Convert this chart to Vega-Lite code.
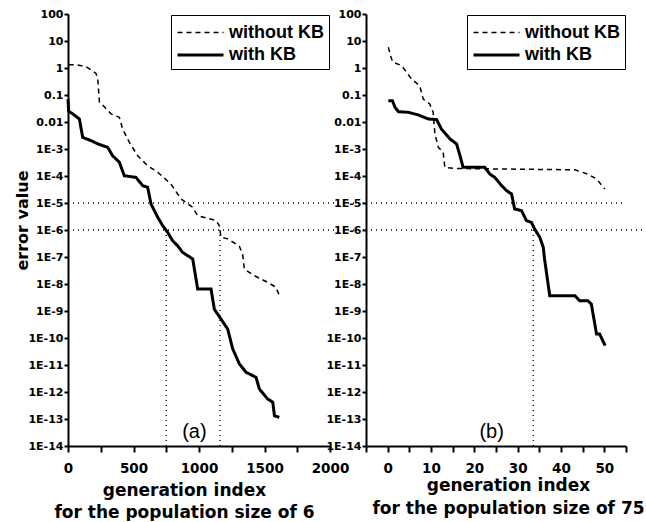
{
  "$schema": "https://vega.github.io/schema/vega-lite/v6.json",
  "background": "white",
  "padding": {"left": 14, "top": 8, "right": 0, "bottom": 0},
  "spacing": 36,
  "bounds": "flush",
  "datasets": {
    "la": [
      {"gen": 5, "err": 1.32, "series": "without KB"},
      {"gen": 60, "err": 1.32, "series": "without KB"},
      {"gen": 137, "err": 1.12, "series": "without KB"},
      {"gen": 214, "err": 0.63, "series": "without KB"},
      {"gen": 227, "err": 0.4, "series": "without KB"},
      {"gen": 240, "err": 0.054, "series": "without KB"},
      {"gen": 270, "err": 0.04, "series": "without KB"},
      {"gen": 328, "err": 0.02, "series": "without KB"},
      {"gen": 392, "err": 0.0148, "series": "without KB"},
      {"gen": 417, "err": 0.0055, "series": "without KB"},
      {"gen": 468, "err": 0.00178, "series": "without KB"},
      {"gen": 532, "err": 5.6e-4, "series": "without KB"},
      {"gen": 608, "err": 2.4e-4, "series": "without KB"},
      {"gen": 685, "err": 1.38e-4, "series": "without KB"},
      {"gen": 786, "err": 5e-5, "series": "without KB"},
      {"gen": 863, "err": 1.41e-5, "series": "without KB"},
      {"gen": 952, "err": 6.9e-6, "series": "without KB"},
      {"gen": 990, "err": 3.4e-6, "series": "without KB"},
      {"gen": 1130, "err": 2.24e-6, "series": "without KB"},
      {"gen": 1155, "err": 1.45e-6, "series": "without KB"},
      {"gen": 1168, "err": 5.4e-7, "series": "without KB"},
      {"gen": 1219, "err": 4.7e-7, "series": "without KB"},
      {"gen": 1308, "err": 2.5e-7, "series": "without KB"},
      {"gen": 1333, "err": 1.26e-7, "series": "without KB"},
      {"gen": 1346, "err": 3.6e-8, "series": "without KB"},
      {"gen": 1422, "err": 2.04e-8, "series": "without KB"},
      {"gen": 1524, "err": 1.15e-8, "series": "without KB"},
      {"gen": 1588, "err": 7.6e-9, "series": "without KB"},
      {"gen": 1613, "err": 3.7e-9, "series": "without KB"},
      {"gen": 0, "err": 0.0708, "series": "with KB"},
      {"gen": 5, "err": 0.0251, "series": "with KB"},
      {"gen": 36, "err": 0.02, "series": "with KB"},
      {"gen": 87, "err": 0.0129, "series": "with KB"},
      {"gen": 112, "err": 0.00269, "series": "with KB"},
      {"gen": 176, "err": 0.00204, "series": "with KB"},
      {"gen": 227, "err": 0.00155, "series": "with KB"},
      {"gen": 303, "err": 0.00115, "series": "with KB"},
      {"gen": 341, "err": 5.6e-4, "series": "with KB"},
      {"gen": 392, "err": 3.24e-4, "series": "with KB"},
      {"gen": 430, "err": 1.02e-4, "series": "with KB"},
      {"gen": 519, "err": 8.9e-5, "series": "with KB"},
      {"gen": 570, "err": 4.4e-5, "series": "with KB"},
      {"gen": 608, "err": 3.8e-5, "series": "with KB"},
      {"gen": 634, "err": 9.1e-6, "series": "with KB"},
      {"gen": 685, "err": 2.95e-6, "series": "with KB"},
      {"gen": 723, "err": 1.45e-6, "series": "with KB"},
      {"gen": 761, "err": 8.1e-7, "series": "with KB"},
      {"gen": 799, "err": 4e-7, "series": "with KB"},
      {"gen": 837, "err": 2.6e-7, "series": "with KB"},
      {"gen": 875, "err": 1.48e-7, "series": "with KB"},
      {"gen": 952, "err": 8.5e-8, "series": "with KB"},
      {"gen": 990, "err": 6.5e-9, "series": "with KB"},
      {"gen": 1092, "err": 6.5e-9, "series": "with KB"},
      {"gen": 1117, "err": 1.17e-9, "series": "with KB"},
      {"gen": 1168, "err": 5e-10, "series": "with KB"},
      {"gen": 1219, "err": 2.14e-10, "series": "with KB"},
      {"gen": 1257, "err": 4e-11, "series": "with KB"},
      {"gen": 1308, "err": 1.1e-11, "series": "with KB"},
      {"gen": 1359, "err": 5.4e-12, "series": "with KB"},
      {"gen": 1435, "err": 3.5e-12, "series": "with KB"},
      {"gen": 1461, "err": 1.29e-12, "series": "with KB"},
      {"gen": 1524, "err": 5.5e-13, "series": "with KB"},
      {"gen": 1563, "err": 4.2e-13, "series": "with KB"},
      {"gen": 1576, "err": 1.32e-13, "series": "with KB"},
      {"gen": 1613, "err": 1.15e-13, "series": "with KB"}
    ],
    "rb": [
      {"gen": 0.15, "err": 5.9, "series": "without KB"},
      {"gen": 0.9, "err": 2.14, "series": "without KB"},
      {"gen": 1.3, "err": 1.62, "series": "without KB"},
      {"gen": 3.2, "err": 1.23, "series": "without KB"},
      {"gen": 5.5, "err": 0.39, "series": "without KB"},
      {"gen": 7.4, "err": 0.219, "series": "without KB"},
      {"gen": 8.2, "err": 0.0708, "series": "without KB"},
      {"gen": 9.7, "err": 0.0468, "series": "without KB"},
      {"gen": 10.5, "err": 0.0229, "series": "without KB"},
      {"gen": 10.9, "err": 0.00363, "series": "without KB"},
      {"gen": 11.7, "err": 0.00115, "series": "without KB"},
      {"gen": 12.8, "err": 7.6e-4, "series": "without KB"},
      {"gen": 13.2, "err": 2.09e-4, "series": "without KB"},
      {"gen": 15.5, "err": 1.9e-4, "series": "without KB"},
      {"gen": 43.2, "err": 1.7e-4, "series": "without KB"},
      {"gen": 46.2, "err": 1.17e-4, "series": "without KB"},
      {"gen": 48.2, "err": 7.8e-5, "series": "without KB"},
      {"gen": 50.1, "err": 3.3e-5, "series": "without KB"},
      {"gen": 0.15, "err": 0.0617, "series": "with KB"},
      {"gen": 1.1, "err": 0.0617, "series": "with KB"},
      {"gen": 1.7, "err": 0.0347, "series": "with KB"},
      {"gen": 2.5, "err": 0.024, "series": "with KB"},
      {"gen": 4.8, "err": 0.0229, "series": "with KB"},
      {"gen": 7.1, "err": 0.0182, "series": "with KB"},
      {"gen": 9.4, "err": 0.0129, "series": "with KB"},
      {"gen": 11.3, "err": 0.0123, "series": "with KB"},
      {"gen": 12.4, "err": 0.0055, "series": "with KB"},
      {"gen": 14.4, "err": 0.00234, "series": "with KB"},
      {"gen": 15.9, "err": 0.00155, "series": "with KB"},
      {"gen": 16.7, "err": 5.6e-4, "series": "with KB"},
      {"gen": 17.4, "err": 2.09e-4, "series": "with KB"},
      {"gen": 22.4, "err": 2.09e-4, "series": "with KB"},
      {"gen": 23.6, "err": 1.17e-4, "series": "with KB"},
      {"gen": 24.7, "err": 8.9e-5, "series": "with KB"},
      {"gen": 26.3, "err": 4.4e-5, "series": "with KB"},
      {"gen": 27.4, "err": 2.9e-5, "series": "with KB"},
      {"gen": 28.6, "err": 2.14e-5, "series": "with KB"},
      {"gen": 29.3, "err": 6e-6, "series": "with KB"},
      {"gen": 30.9, "err": 5.2e-6, "series": "with KB"},
      {"gen": 32.0, "err": 2.24e-6, "series": "with KB"},
      {"gen": 33.2, "err": 1.9e-6, "series": "with KB"},
      {"gen": 33.9, "err": 1.1e-6, "series": "with KB"},
      {"gen": 35.1, "err": 5.4e-7, "series": "with KB"},
      {"gen": 35.9, "err": 2.3e-7, "series": "with KB"},
      {"gen": 36.2, "err": 8.5e-8, "series": "with KB"},
      {"gen": 37.4, "err": 3.7e-9, "series": "with KB"},
      {"gen": 43.2, "err": 3.7e-9, "series": "with KB"},
      {"gen": 44.3, "err": 2.4e-9, "series": "with KB"},
      {"gen": 46.2, "err": 2.4e-9, "series": "with KB"},
      {"gen": 47.0, "err": 1.8e-9, "series": "with KB"},
      {"gen": 48.2, "err": 1.41e-10, "series": "with KB"},
      {"gen": 48.9, "err": 1.41e-10, "series": "with KB"},
      {"gen": 50.2, "err": 5.2e-11, "series": "with KB"}
    ]
  },
  "hconcat": [
    {
      "width": 262,
      "height": 432,
      "layer": [
        {
          "data": {"values": [{"x": 0, "x2": 2280, "y": 1e-5}, {"x": 0, "x2": 2280, "y": 1e-6}]},
          "mark": {"type": "rule", "strokeDash": [1, 4], "strokeWidth": 1.3, "color": "black", "clip": false},
          "encoding": {
            "x": {"field": "x", "type": "quantitative", "scale": {"domain": [0, 2000], "nice": false, "zero": false}},
            "x2": {"field": "x2"},
            "y": {"field": "y", "type": "quantitative", "scale": {"type": "log", "domain": [1e-14, 100], "nice": false}}
          }
        },
        {
          "data": {"values": [{"x": 750, "y": 1e-6, "y2": 1e-14}, {"x": 1160, "y": 1e-6, "y2": 1e-14}]},
          "mark": {"type": "rule", "strokeDash": [1, 4], "strokeWidth": 1.3, "color": "black"},
          "encoding": {
            "x": {"field": "x", "type": "quantitative"},
            "y": {"field": "y", "type": "quantitative"},
            "y2": {"field": "y2"}
          }
        },
        {
          "data": {"name": "la"},
          "mark": {"type": "line", "color": "black"},
          "encoding": {
            "x": {
              "field": "gen", "type": "quantitative",
              "axis": {
                "values": [0, 250, 500, 750, 1000, 1250, 1500, 1750, 2000],
                "tickCount": 50,
                "labelExpr": "datum.value % 500 == 0 ? format(datum.value, 'd') : ''",
                "title": ["generation index", "for the population size of 6"],
                "titleX": 116,
                "titleLineHeight": 22,
                "titlePadding": 8
              }
            },
            "y": {
              "field": "err", "type": "quantitative",
              "axis": {
                "title": "error value", "titleFontSize": 16, "titlePadding": -3, "titleY": 206,
                "tickCount": 50,
                "values": [1e-14, 1e-13, 1e-12, 1e-11, 1e-10, 1e-9, 1e-8, 1e-7, 1e-6, 1e-5, 1e-4, 1e-3, 0.01, 0.1, 1, 10, 100]
              }
            },
            "strokeDash": {
              "field": "series", "type": "nominal",
              "scale": {"domain": ["without KB", "with KB"], "range": [[5, 4], [1, 0]]},
              "legend": {"title": null}
            },
            "strokeWidth": {
              "field": "series", "type": "nominal",
              "scale": {"domain": ["without KB", "with KB"], "range": [1.5, 3]},
              "legend": {"title": null}
            }
          }
        },
        {
          "data": {"values": [{"x": 965, "y": 3.2e-14, "t": "(a)"}]},
          "mark": {"type": "text", "font": "Liberation Sans", "fontSize": 20, "color": "black", "baseline": "middle"},
          "encoding": {
            "x": {"field": "x", "type": "quantitative"},
            "y": {"field": "y", "type": "quantitative"},
            "text": {"field": "t"}
          }
        }
      ]
    },
    {
      "width": 260,
      "height": 432,
      "layer": [
        {
          "data": {"values": [{"x": -5, "x2": 54.6, "y": 1e-5}, {"x": -5, "x2": 60, "y": 1e-6}]},
          "mark": {"type": "rule", "strokeDash": [1, 4], "strokeWidth": 1.3, "color": "black", "clip": false},
          "encoding": {
            "x": {"field": "x", "type": "quantitative", "scale": {"domain": [-5, 55], "nice": false, "zero": false}},
            "x2": {"field": "x2"},
            "y": {"field": "y", "type": "quantitative", "scale": {"type": "log", "domain": [1e-14, 100], "nice": false}}
          }
        },
        {
          "data": {"values": [{"x": 33.6, "y": 1e-6, "y2": 1e-14}]},
          "mark": {"type": "rule", "strokeDash": [1, 4], "strokeWidth": 1.3, "color": "black"},
          "encoding": {
            "x": {"field": "x", "type": "quantitative"},
            "y": {"field": "y", "type": "quantitative"},
            "y2": {"field": "y2"}
          }
        },
        {
          "data": {"name": "rb"},
          "mark": {"type": "line", "color": "black"},
          "encoding": {
            "x": {
              "field": "gen", "type": "quantitative",
              "axis": {
                "values": [-5, 0, 5, 10, 15, 20, 25, 30, 35, 40, 45, 50, 55],
                "tickCount": 50,
                "labelExpr": "datum.value % 10 == 0 ? format(datum.value, 'd') : ''",
                "title": ["generation index", "for the population size of 75"],
                "titleX": 142,
                "titleLineHeight": 23,
                "titlePadding": 3
              }
            },
            "y": {
              "field": "err", "type": "quantitative",
              "axis": {
                "title": null,
                "tickCount": 50,
                "values": [1e-14, 1e-13, 1e-12, 1e-11, 1e-10, 1e-9, 1e-8, 1e-7, 1e-6, 1e-5, 1e-4, 1e-3, 0.01, 0.1, 1, 10, 100]
              }
            },
            "strokeDash": {
              "field": "series", "type": "nominal",
              "scale": {"domain": ["without KB", "with KB"], "range": [[5, 4], [1, 0]]},
              "legend": {"title": null}
            },
            "strokeWidth": {
              "field": "series", "type": "nominal",
              "scale": {"domain": ["without KB", "with KB"], "range": [1.5, 3]},
              "legend": {"title": null}
            }
          }
        },
        {
          "data": {"values": [{"x": 24, "y": 3.2e-14, "t": "(b)"}]},
          "mark": {"type": "text", "font": "Liberation Sans", "fontSize": 20, "color": "black", "baseline": "middle"},
          "encoding": {
            "x": {"field": "x", "type": "quantitative"},
            "y": {"field": "y", "type": "quantitative"},
            "text": {"field": "t"}
          }
        }
      ]
    }
  ],
  "resolve": {
    "scale": {"strokeDash": "independent", "strokeWidth": "independent"},
    "legend": {"strokeDash": "independent", "strokeWidth": "independent"}
  },
  "config": {
    "view": {"stroke": null},
    "font": "DejaVu Sans",
    "axis": {
      "grid": false,
      "domainColor": "black",
      "domainWidth": 2,
      "tickColor": "black",
      "tickWidth": 2,
      "labelColor": "black",
      "labelFont": "DejaVu Sans",
      "labelFontWeight": "bold",
      "titleFont": "DejaVu Sans",
      "titleFontWeight": "bold",
      "titleColor": "black"
    },
    "axisX": {"labelFontSize": 13.5, "tickSize": 6, "labelPadding": 9, "labelFlush": false, "labelOverlap": false, "titleFontSize": 17},
    "axisY": {
      "labelFontSize": 11,
      "tickSize": 4,
      "labelPadding": 1,
      "labelExpr": "datum.value >= 1 ? format(datum.value, 'd') : datum.value >= 0.01 ? format(datum.value, '.2~f') : '1E-' + round(-log(datum.value) / LN10)",
      "labelFlush": false,
      "labelOverlap": false
    },
    "legend": {
      "orient": "top-right",
      "offset": 1,
      "strokeColor": "black",
      "padding": 5,
      "labelFont": "Liberation Sans",
      "labelFontWeight": "bold",
      "labelFontSize": 18,
      "labelColor": "black",
      "symbolType": "M-1,0H3",
      "symbolSize": 529,
      "symbolStrokeColor": "black",
      "symbolFillColor": "transparent",
      "rowPadding": 0,
      "labelOffset": 27
    }
  }
}
